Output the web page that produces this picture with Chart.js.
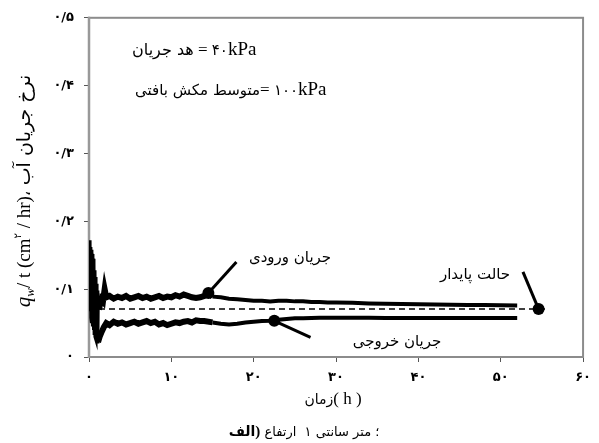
<!DOCTYPE html>
<html>
<head>
<meta charset="utf-8">
<script src="https://cdn.jsdelivr.net/npm/chart.js@4.4.1/dist/chart.umd.min.js"></script>
<style>
  html, body { margin: 0; padding: 0; background: #fff; }
  #wrap { width: 599px; height: 443px; }
</style>
</head>
<body>
<div id="wrap"><canvas id="flowChart" width="599" height="443"></canvas></div>
<script>
// --- data: time (h) vs q_w/t (cm³/hr) ---

// first hour: the rate swings up and down very fast
const transientTime = [0.1, 0.15, 0.2, 0.25, 0.3, 0.35, 0.4, 0.45, 0.5, 0.55, 0.6, 0.65, 0.7, 0.75, 0.8, 0.85, 0.9, 0.95, 1.0, 1.05, 1.1];
const transientRate = [0.172, 0.07, 0.162, 0.058, 0.158, 0.05, 0.152, 0.045, 0.145, 0.04, 0.138, 0.035, 0.128, 0.03, 0.118, 0.027, 0.108, 0.024, 0.098, 0.02, 0.09];

// inflow (جریان ورودی)
const inflowTime = [1.2, 1.5, 1.7, 1.9, 2.1, 2.5, 3, 3.5, 4, 4.5, 5, 5.5, 6, 6.5, 7, 7.5, 8, 8.5, 9, 9.5,
  10, 10.5, 11, 11.5, 12, 12.5, 13, 13.5, 14, 14.5, 15, 16, 17, 18, 19, 20, 21, 22, 23, 24,
  25, 26, 27, 28, 29, 30, 32, 34, 36, 38, 40, 42, 44, 46, 48, 50, 52];
const inflowRate = [0.07, 0.085, 0.082, 0.1, 0.088, 0.09, 0.086, 0.089, 0.087, 0.09, 0.086, 0.088, 0.09, 0.087, 0.089, 0.086, 0.088, 0.09, 0.087, 0.089,
  0.088, 0.091, 0.089, 0.092, 0.09, 0.088, 0.087, 0.088, 0.09, 0.0935, 0.089, 0.088, 0.086, 0.085, 0.084, 0.083, 0.083, 0.082, 0.083, 0.083,
  0.082, 0.082, 0.081, 0.081, 0.0805, 0.0805, 0.08, 0.079, 0.0785, 0.078, 0.0777, 0.0775, 0.077, 0.0768, 0.0765, 0.0762, 0.076];

// outflow (جریان خروجی)
const outflowTime = [1.1, 1.3, 1.5, 1.8, 2.1, 2.5, 3, 3.5, 4, 4.5, 5, 5.5, 6, 6.5, 7, 7.5, 8, 8.5, 9, 9.5,
  10, 10.5, 11, 11.5, 12, 12.5, 13, 13.5, 14, 15, 16, 17, 18, 19, 20, 21, 22, 23, 24, 25,
  26, 27, 28, 30, 32, 34, 36, 38, 40, 42, 44, 46, 48, 50, 52];
const outflowRate = [0.022, 0.03, 0.036, 0.044, 0.05, 0.047, 0.052, 0.049, 0.051, 0.048, 0.05, 0.052, 0.049, 0.051, 0.053, 0.05, 0.052, 0.048, 0.05, 0.047,
  0.049, 0.051, 0.05, 0.052, 0.053, 0.051, 0.054, 0.053, 0.053, 0.051, 0.049, 0.048, 0.049, 0.051, 0.052, 0.053, 0.0535, 0.055, 0.056, 0.057,
  0.057, 0.0575, 0.058, 0.058, 0.058, 0.0578, 0.0576, 0.0575, 0.0575, 0.0574, 0.0574, 0.0574, 0.0574, 0.0574, 0.0574];

// steady state (حالت پایدار)
const steadyTime = [0, 55.8];
const steadyRate = [0.0706, 0.0706];

// marker dots and their leader lines
const inflowMarkTime = [14.5, 17.9];
const inflowMarkRate = [0.0945, 0.14];
const outflowMarkTime = [22.5, 26.9];
const outflowMarkRate = [0.0534, 0.029];
const steadyMarkTime = [54.6, 52.7];
const steadyMarkRate = [0.0706, 0.1255];

// axes
const xTicks = [0, 10, 20, 30, 40, 50, 60];
const yTicks = [0, 0.1, 0.2, 0.3, 0.4, 0.5];

const FA = 'DejaVu Sans';
const SERIF = 'Liberation Serif';
const faDigits = '۰۱۲۳۴۵۶۷۸۹';
function toFa(s) {
    return String(s).replace(/\d/g, d => faDigits[d]).replace('.', '/');
}
function pts(ts, vs) {
    return ts.map((t, i) => ({ x: t, y: vs[i] }));
}

// draws pieces left to right, each piece with its own font (keeps visual order fixed)
function drawRun(ctx, x, y, parts, align) {
    let total = 0;
    parts.forEach(p => { ctx.font = p.font; p.w = ctx.measureText(p.text).width; total += p.w; });
    let cx = align === 'center' ? x - total / 2 : x;
    parts.forEach(p => {
        ctx.font = p.font;
        ctx.fillText(p.text, cx, y + (p.dy || 0));
        cx += p.w;
    });
}

const framePlugin = {
    id: 'frame',
    beforeDatasetsDraw(chart) {
        const { ctx, chartArea: a } = chart;
        ctx.save();
        ctx.strokeStyle = '#8c8c8c';
        ctx.lineWidth = 2;
        ctx.strokeRect(a.left, a.top, a.right - a.left, a.bottom - a.top);
        // left axis a little heavier
        ctx.strokeStyle = '#999';
        ctx.lineWidth = 2.5;
        ctx.beginPath();
        ctx.moveTo(a.left, a.top - 1);
        ctx.lineTo(a.left, a.bottom + 1);
        ctx.stroke();
        ctx.restore();
    }
};

const textPlugin = {
    id: 'texts',
    afterDraw(chart) {
        const ctx = chart.ctx;
        ctx.save();
        ctx.fillStyle = '#000';
        ctx.textBaseline = 'alphabetic';
        ctx.textAlign = 'left';
        ctx.direction = 'ltr';

        // conditions of the test
        drawRun(ctx, 132, 55, [
            { text: 'هد جریان', font: `16px '${FA}'` },
            { text: ' = ', font: `17px '${SERIF}'` },
            { text: '۴۰', font: `15px '${FA}'` },
            { text: 'kPa', font: `19px '${SERIF}'` }
        ]);
        drawRun(ctx, 135, 95, [
            { text: 'متوسط مکش بافتی', font: `15px '${FA}'` },
            { text: '= ', font: `17px '${SERIF}'` },
            { text: '۱۰۰', font: `15px '${FA}'` },
            { text: 'kPa', font: `19px '${SERIF}'` }
        ]);

        // series labels
        drawRun(ctx, 290, 262, [{ text: 'جریان ورودی', font: `15px '${FA}'` }], 'center');
        drawRun(ctx, 475, 279, [{ text: 'حالت پایدار', font: `15px '${FA}'` }], 'center');
        drawRun(ctx, 397, 346, [{ text: 'جریان خروجی', font: `15px '${FA}'` }], 'center');

        // x title and caption
        drawRun(ctx, 333, 404, [
            { text: 'زمان', font: `14px '${FA}'` },
            { text: '( h )', font: `17px '${SERIF}'` }
        ], 'center');
        drawRun(ctx, 304, 436, [
            { text: 'الف', font: `bold 14px '${FA}'` },
            { text: ')', font: `bold 15px '${SERIF}'` },
            { text: ' ارتفاع', font: `13px '${FA}'` },
            { text: '  ۱ ', font: `13px '${FA}'` },
            { text: 'سانتی', font: `13px '${FA}'` },
            { text: ' ', font: `13px '${FA}'` },
            { text: 'متر', font: `13px '${FA}'` },
            { text: ' ؛', font: `13px '${FA}'` }
        ], 'center');

        // y title, rotated
        ctx.translate(30, 191);
        ctx.rotate(-Math.PI / 2);
        drawRun(ctx, 0, 0, [
            { text: 'q', font: `italic 21px '${SERIF}'` },
            { text: 'w', font: `italic 13px '${SERIF}'`, dy: 4 },
            { text: '/ t (cm', font: `19px '${SERIF}'` },
            { text: '۲', font: `10px '${FA}'`, dy: -9 },
            { text: ' / hr)', font: `19px '${SERIF}'` },
            { text: '،', font: `17px '${FA}'` },
            { text: ' ', font: `17px '${FA}'` },
            { text: 'نرخ جریان آب', font: `19px '${FA}'` }
        ], 'center');
        ctx.restore();
    }
};

const thick = { borderColor: '#000', pointRadius: 0, showLine: true, fill: false, tension: 0 };

const ctx = document.getElementById('flowChart').getContext('2d');
const flowChart = new Chart(ctx, {
    type: 'scatter',
    data: {
        datasets: [
            { ...thick, label: 'transient', data: pts(transientTime, transientRate), borderWidth: 3.5 },
            {
                ...thick, label: 'inflow', data: pts(inflowTime, inflowRate), borderWidth: 4,
                segment: { borderWidth: c => c.p0.parsed.x < 15 ? 6 : 4 }
            },
            {
                ...thick, label: 'outflow', data: pts(outflowTime, outflowRate), borderWidth: 4,
                segment: { borderWidth: c => c.p0.parsed.x < 15 ? 6 : 4 }
            },
            { ...thick, label: 'steady', data: pts(steadyTime, steadyRate), borderWidth: 1.5, borderDash: [6, 4] },
            {
                ...thick, label: 'inflow mark', data: pts(inflowMarkTime, inflowMarkRate), borderWidth: 3,
                pointRadius: [6, 0], pointBackgroundColor: '#000', pointBorderWidth: 0
            },
            {
                ...thick, label: 'outflow mark', data: pts(outflowMarkTime, outflowMarkRate), borderWidth: 3,
                pointRadius: [6, 0], pointBackgroundColor: '#000', pointBorderWidth: 0
            },
            {
                ...thick, label: 'steady mark', data: pts(steadyMarkTime, steadyMarkRate), borderWidth: 3,
                pointRadius: [6, 0], pointBackgroundColor: '#000', pointBorderWidth: 0
            }
        ]
    },
    options: {
        responsive: false,
        animation: false,
        devicePixelRatio: 1,
        layout: { padding: { top: 17, right: 12, left: 0, bottom: 0 } },
        plugins: { legend: { display: false }, tooltip: { enabled: false } },
        scales: {
            x: {
                type: 'linear', min: 0, max: 60,
                afterBuildTicks: s => { s.ticks = xTicks.map(v => ({ value: v })); },
                afterFit: s => { s.height = 86; },
                grid: { drawOnChartArea: false, drawTicks: true, tickLength: 5, color: '#555' },
                border: { display: false },
                ticks: {
                    padding: 8, color: '#000', maxRotation: 0,
                    font: { family: FA, size: 13, weight: 'bold' },
                    callback: v => toFa(v)
                }
            },
            y: {
                type: 'linear', min: 0, max: 0.5,
                afterBuildTicks: s => { s.ticks = yTicks.map(v => ({ value: v })); },
                afterFit: s => { s.width = 89; },
                grid: { drawOnChartArea: false, drawTicks: true, tickLength: 5, color: '#555' },
                border: { display: false },
                ticks: {
                    padding: 10, color: '#000',
                    font: { family: FA, size: 13, weight: 'bold' },
                    callback: v => v === 0 ? '۰' : toFa(v.toFixed(1))
                }
            }
        }
    },
    plugins: [framePlugin, textPlugin]
});
</script>
</body>
</html>
